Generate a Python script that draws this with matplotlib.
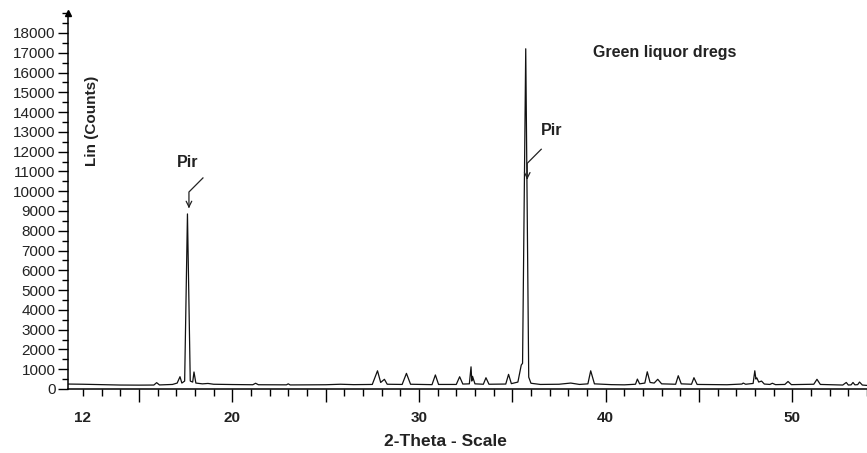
import matplotlib
matplotlib.use("Agg")
import matplotlib.pyplot as plt
from matplotlib.ticker import MultipleLocator

plt.rcParams['font.family'] = ['Liberation Sans', 'DejaVu Sans']

# XRD pattern, points (2-theta, counts)
two_theta = [11.2, 12.0, 13.0, 14.0, 15.0, 15.8, 15.95, 16.1, 16.8, 17.05, 17.2, 17.3,
             17.45, 17.6, 17.75, 17.88, 17.95, 18.05, 18.4, 18.7, 19.0, 20.0, 21.1,
             21.25, 21.4, 22.9, 23.0, 23.1, 25.0, 25.8, 26.5, 27.5, 27.78, 27.95, 28.15,
             28.3, 29.1, 29.33, 29.55, 30.7, 30.88, 31.05, 32.0, 32.18, 32.35, 32.7,
             32.79, 32.83, 32.87, 33.0, 33.45, 33.59, 33.75, 34.65, 34.8, 34.95, 35.3,
             35.48, 35.55, 35.72, 35.88, 36.0, 36.5, 37.5, 38.13, 38.6, 39.05, 39.2,
             39.4, 40.3, 41.0, 41.6, 41.7, 41.82, 42.1, 42.23, 42.38, 42.6, 42.79, 43.0,
             43.75, 43.89, 44.05, 44.6, 44.73, 44.9, 46.5, 47.3, 47.37, 47.5, 47.9,
             47.99, 48.05, 48.1, 48.2, 48.35, 48.5, 48.8, 48.93, 49.1, 49.6, 49.77,
             49.95, 51.15, 51.32, 51.5, 52.7, 52.89, 53.0, 53.15, 53.25, 53.35, 53.5,
             53.6, 53.75, 54.0]
counts = [250, 240, 220, 200, 195, 200, 320, 205, 230, 300, 620, 300,
          400, 8850, 400, 350, 860, 300, 260, 280, 240, 225, 215,
          290, 215, 210, 260, 205, 215, 240, 220, 230, 920, 330, 490,
          240, 230, 790, 240, 220, 710, 230, 230, 620, 250, 260,
          1120, 400, 640, 260, 240, 570, 240, 250, 740, 270, 350,
          1210, 1300, 17200, 600, 290, 230, 240, 300, 230, 260, 920,
          260, 220, 210, 240, 500, 260, 300, 870, 330, 300, 490, 260,
          240, 670, 260, 240, 570, 230, 215, 250, 300, 240, 280,
          920, 500, 560, 350, 400, 250, 230, 290, 220, 230, 380,
          220, 240, 490, 230, 200, 330, 200, 210, 330, 210, 220,
          350, 200, 180]

# labelled pyrite peaks
pir_theta = [17.6, 35.72]
pir_counts = [8850, 17200]

x_ticks = [12, 15, 20, 25, 30, 35, 40, 45, 50]
x_labels = ['12', '', '20', '', '30', '', '40', '', '50']

fig = plt.figure(figsize=(8.67, 4.53), dpi=100)
ax = fig.add_axes([0.0784, 0.1413, 0.9216, 0.8296])

ax.plot(two_theta, counts, color='#111111', lw=0.9)

ax.set_xlim(11.2, 54.0)
ax.set_ylim(0, 19000)

for s in ['top', 'right']:
    ax.spines[s].set_visible(False)
for s in ['left', 'bottom']:
    ax.spines[s].set_linewidth(1.1)
ax.plot(0, 1, '^', color='black', ms=4, transform=ax.transAxes, clip_on=False)

ax.set_xticks(x_ticks)
ax.set_xticklabels(x_labels, fontweight='bold', fontsize=11, color='#222222')
ax.xaxis.set_minor_locator(MultipleLocator(1))
ax.tick_params(axis='x', which='major', direction='out', length=9, width=1, pad=7)
ax.tick_params(axis='x', which='minor', direction='out', length=5, width=1)
ax.get_xticklines()[0].set_markersize(5)

ax.set_yticks(range(0, 18001, 1000))
ax.set_yticklabels([str(v) for v in range(0, 18001, 1000)], fontsize=11, color='#222222')
ax.yaxis.set_minor_locator(MultipleLocator(500))
ax.tick_params(axis='y', which='major', direction='out', length=7, width=1, pad=2)
ax.tick_params(axis='y', which='minor', direction='out', length=4, width=1)

ax.text(12.51, 13550, 'Lin (Counts)', rotation=90, fontweight='bold', fontsize=11,
        ha='center', va='center', color='#222222')
fig.text(445 / 867, 1 - 442 / 453, '2-Theta - Scale', fontweight='bold', fontsize=12.5,
         ha='center', va='center', color='#222222')
ax.text(43.15, 16990, 'Green liquor dregs', fontweight='bold', fontsize=11.5,
        ha='center', va='center', color='#222222')

# Pir labels with bent arrows
for px, py in zip(pir_theta, pir_counts):
    tip_x = px + 0.08
    tip_y = py + 150 if py < 10000 else 10450
    ax.plot([tip_x + 0.75, tip_x, tip_x], [tip_y + 1670, tip_y + 960, tip_y + 300],
            color='#222222', lw=0.9)
    ax.annotate('', xy=(tip_x, tip_y), xytext=(tip_x, tip_y + 400),
                arrowprops=dict(arrowstyle='->', color='#222222', lw=0.9))
    ax.text(tip_x - 0.05 + (1.34 if py > 10000 else 0), tip_y + 2430 + (200 if py > 10000 else 0),
            'Pir', fontweight='bold', fontsize=11.5, ha='center', va='center', color='#222222')

fig.savefig('out.png', dpi=100)
